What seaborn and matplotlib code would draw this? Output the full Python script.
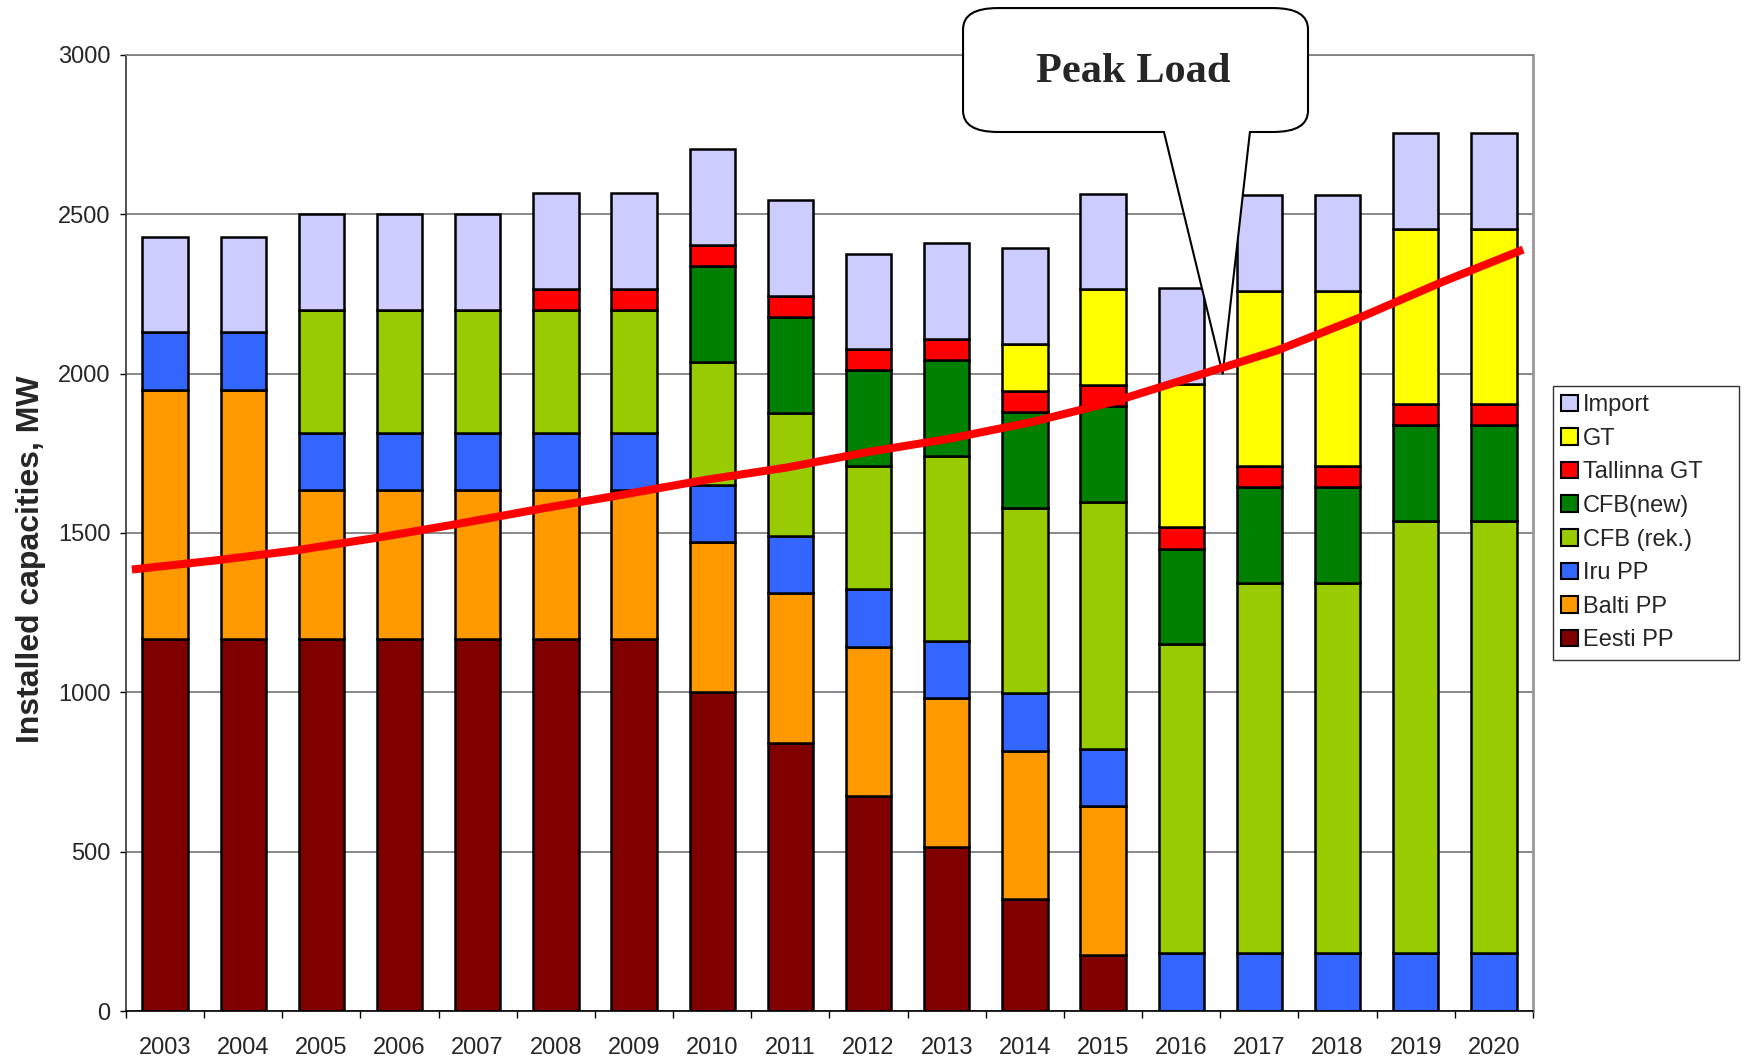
import numpy as np
import matplotlib
matplotlib.use("Agg")
import matplotlib.pyplot as plt
from matplotlib.patches import Patch, FancyBboxPatch, Polygon
from matplotlib.lines import Line2D
import seaborn as sns

# installed capacities, MW
years = [str(y) for y in range(2003, 2021)]
eesti_pp = [1166, 1166, 1166, 1166, 1166, 1166, 1166, 1002, 842, 676, 514, 350, 175, 0, 0, 0, 0, 0]
balti_pp = [782, 782, 467, 467, 467, 467, 467, 468, 468, 467, 467, 467, 467, 0, 0, 0, 0, 0]
iru_pp = [181] * 18
cfb_rek = [0, 0, 386, 386, 386, 386, 386, 386, 386, 386, 580, 580, 775, 970, 1163, 1163, 1357, 1357]
cfb_new = [0, 0, 0, 0, 0, 0, 0, 300, 300, 300, 300, 300, 300, 300, 300, 300, 300, 300]
tallinna_gt = [0, 0, 0, 0, 0, 66, 66, 66, 66, 66, 66, 66, 66, 66, 66, 66, 66, 66]
gt = [0, 0, 0, 0, 0, 0, 0, 0, 0, 0, 0, 150, 300, 450, 550, 550, 550, 550]
imports = [300] * 18

peak_load = [1385, 1413, 1445, 1485, 1529, 1576, 1620, 1666, 1705, 1754,
             1796, 1848, 1912, 1992, 2073, 2175, 2286, 2389]

series = [
    ("Eesti PP", eesti_pp, "#800000"),
    ("Balti PP", balti_pp, "#FF9900"),
    ("Iru PP", iru_pp, "#3366FF"),
    ("CFB (rek.)", cfb_rek, "#99CC00"),
    ("CFB(new)", cfb_new, "#008000"),
    ("Tallinna GT", tallinna_gt, "#FF0000"),
    ("GT", gt, "#FFFF00"),
    ("Import", imports, "#CCCCFF"),
]

sns.set_style("white")
plt.rcParams["font.family"] = ["Liberation Sans", "DejaVu Sans"]

fig = plt.figure(figsize=(17.44, 10.61), dpi=100)
ax = fig.add_axes([0.0722, 0.0471, 0.8068, 0.9013])

bottom = np.zeros(len(years))
for name, vals, col in series:
    sns.barplot(x=years, y=vals, order=years, bottom=bottom, color=col,
                saturation=1, width=0.58, edgecolor="black", linewidth=1.8,
                errorbar=None, ax=ax)
    bottom = bottom + np.array(vals)

ax.set_xlim(-0.5, 17.5)
ax.set_ylim(0, 3000)
ax.set_yticks(range(0, 3001, 500))
ax.set_xlabel("")
ax.set_ylabel("Installed capacities, MW", fontsize=23, fontweight="bold")
ax.yaxis.set_label_coords(-0.057, 0.472)
ax.yaxis.grid(True, color="#808080", linewidth=1.3)
ax.set_axisbelow(True)

# ticks: labels at the centres, small marks between categories
ax.set_xticks(np.arange(-0.5, 18, 1), minor=True)
ax.tick_params(axis="x", which="major", length=0, pad=18.5, labelsize=17)
ax.tick_params(axis="x", which="minor", bottom=True, length=5, width=1, color="black")
ax.tick_params(axis="y", left=True, length=4, width=1, color="black", pad=7, labelsize=17)

ax.spines["left"].set_color("#333333")
ax.spines["bottom"].set_color("black")
ax.spines["top"].set_color("#808080")
ax.spines["right"].set_color("#999999")
ax.spines["left"].set_linewidth(1.2)
ax.spines["bottom"].set_linewidth(1.2)
ax.spines["top"].set_linewidth(1.3)
ax.spines["right"].set_linewidth(2)

# callout "Peak Load"
tip = fig.transFigure.inverted().transform(ax.transData.transform((13.53, 2000)))
box = FancyBboxPatch((0.5522, 0.8756), 0.1978, 0.1168,
                     boxstyle="round,pad=0,rounding_size=0.02",
                     transform=fig.transFigure, facecolor="white",
                     edgecolor="black", linewidth=1.5, zorder=5, clip_on=False)
ax.add_patch(box)
ptr = Polygon([(0.6674, 0.8790), tuple(tip), (0.7167, 0.8790)], closed=True,
              transform=fig.transFigure, facecolor="white", edgecolor="none",
              zorder=6, clip_on=False)
ax.add_patch(ptr)
for bx in (0.6674, 0.7167):
    ax.add_line(Line2D([bx, tip[0]], [0.8756, tip[1]], transform=fig.transFigure,
                       color="black", linewidth=1.5, zorder=7, clip_on=False))
ax.text(0.6497, 0.9227, "Peak Load", transform=fig.transFigure, ha="center",
        va="baseline", fontsize=30.5, fontweight="bold",
        family=["Liberation Serif", "DejaVu Serif"], zorder=8)

# peak load curve on its own x scale (spans the full plot width)
ax2 = ax.twiny()
sns.lineplot(x=np.arange(len(peak_load)), y=peak_load, ax=ax2, color="#FF0000",
             linewidth=5.8, solid_capstyle="butt")
ax2.set_xlim(-0.073, 17.12)
ax2.set_ylim(0, 3000)
ax2.set_axis_off()

handles = [Patch(facecolor=c, edgecolor="black", linewidth=1.5, label=n)
           for n, _, c in reversed(series)]
leg = fig.legend(handles=handles, loc="upper left",
                 bbox_to_anchor=(0.8905, 0.3798, 0.1066, 0.2564),
                 bbox_transform=fig.transFigure, mode="expand",
                 frameon=True, fancybox=False, edgecolor="black", fontsize=17,
                 handlelength=0.7, handleheight=0.7, handletextpad=0.2,
                 labelspacing=0.49, borderpad=0.35, borderaxespad=0)
leg.get_frame().set_linewidth(1.0)

fig.savefig("out.png", dpi=100)
